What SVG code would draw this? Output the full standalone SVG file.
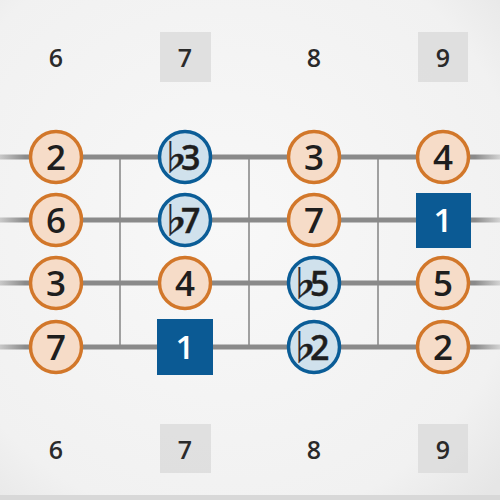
<svg xmlns="http://www.w3.org/2000/svg" width="500" height="500" viewBox="0 0 500 500">
<style>
.fret{font-family:"Open Sans","Noto Sans",sans-serif;font-weight:600;font-size:25px;fill:#2a2a2a;text-anchor:middle}
.fbox{fill:#dcdcdc;opacity:0.85}
.o circle{fill:#f6dcc8;stroke:#d2772a;stroke-width:3.5}
.b circle{fill:#d0e1ec;stroke:#0b5d97;stroke-width:3.5}
.n text{font-family:"Open Sans","Noto Sans","DejaVu Sans",sans-serif;font-weight:600;font-size:35px;fill:#1e1e1e;text-anchor:middle}
.b text{font-family:"Open Sans","Noto Sans CJK JP",sans-serif;font-size:34px;text-anchor:start;letter-spacing:-11px;stroke:#1e1e1e;stroke-width:0.4}
.r rect{fill:#0b5a94}
.r text{font-family:"Open Sans","Noto Sans",sans-serif;font-weight:600;font-size:33px;fill:#ffffff;text-anchor:middle}
.str{stroke:url(#sg);stroke-width:5}
.fl{stroke:#a0a0a0;stroke-width:2}
</style>
<defs>
<linearGradient id="sg" x1="0" y1="0" x2="500" y2="0" gradientUnits="userSpaceOnUse">
<stop offset="0" stop-color="#8a8a8a" stop-opacity="0.4"/>
<stop offset="0.05" stop-color="#8a8a8a"/>
<stop offset="0.95" stop-color="#8a8a8a"/>
<stop offset="1" stop-color="#8a8a8a" stop-opacity="0.3"/>
</linearGradient>
<radialGradient id="bg" cx="0.45" cy="0.45" r="0.75">
<stop offset="0" stop-color="#f8f8f8"/>
<stop offset="0.8" stop-color="#f1f1f1"/>
<stop offset="1" stop-color="#e6e6e6"/>
</radialGradient>
</defs>
<rect x="0" y="0" width="500" height="500" fill="url(#bg)"/>
<rect x="0" y="495" width="500" height="5" fill="#d8d8d8"/>
<g id="fret-numbers-top">
<rect class="fbox" x="160" y="32" width="51" height="50"/>
<rect class="fbox" x="418" y="32" width="50" height="50"/>
<text class="fret" x="56" y="67">6</text>
<text class="fret" x="185" y="67">7</text>
<text class="fret" x="314" y="67">8</text>
<text class="fret" x="443" y="67">9</text>
</g>
<g id="fret-numbers-bottom">
<rect class="fbox" x="160" y="424" width="51" height="49"/>
<rect class="fbox" x="418" y="424" width="50" height="49"/>
<text class="fret" x="56" y="459">6</text>
<text class="fret" x="185" y="459">7</text>
<text class="fret" x="314" y="459">8</text>
<text class="fret" x="443" y="459">9</text>
</g>
<g id="connectors">
<line class="fl" x1="120" y1="157" x2="120" y2="347"/>
<line class="fl" x1="249" y1="157" x2="249" y2="347"/>
<line class="fl" x1="378" y1="157" x2="378" y2="347"/>
<line class="str" x1="0" y1="157" x2="500" y2="157"/>
<line class="str" x1="0" y1="220" x2="500" y2="220"/>
<line class="str" x1="0" y1="283" x2="500" y2="283"/>
<line class="str" x1="0" y1="347" x2="500" y2="347"/>
</g>
<g id="n-s1-2" class="n o"><circle cx="56" cy="157" r="25.5"/><text x="56" y="170">2</text></g>
<g id="n-s1-b3" class="n b"><circle cx="185" cy="157" r="25.5"/><text x="158" y="170">♭3</text></g>
<g id="n-s1-3" class="n o"><circle cx="314" cy="157" r="25.5"/><text x="314" y="170">3</text></g>
<g id="n-s1-4" class="n o"><circle cx="443" cy="157" r="25.5"/><text x="443" y="170">4</text></g>
<g id="n-s2-6" class="n o"><circle cx="56" cy="220" r="25.5"/><text x="56" y="233">6</text></g>
<g id="n-s2-b7" class="n b"><circle cx="185" cy="220" r="25.5"/><text x="158" y="233">♭7</text></g>
<g id="n-s2-7" class="n o"><circle cx="314" cy="220" r="25.5"/><text x="314" y="233">7</text></g>
<g id="n-s2-1" class="r"><rect x="416" y="193" width="55" height="55"/><text x="443" y="232">1</text></g>
<g id="n-s3-3" class="n o"><circle cx="56" cy="283" r="25.5"/><text x="56" y="296">3</text></g>
<g id="n-s3-4" class="n o"><circle cx="185" cy="283" r="25.5"/><text x="185" y="296">4</text></g>
<g id="n-s3-b5" class="n b"><circle cx="314" cy="283" r="25.5"/><text x="287" y="296">♭5</text></g>
<g id="n-s3-5" class="n o"><circle cx="443" cy="283" r="25.5"/><text x="443" y="296">5</text></g>
<g id="n-s4-7" class="n o"><circle cx="56" cy="347" r="25.5"/><text x="56" y="360">7</text></g>
<g id="n-s4-1" class="r"><rect x="157" y="319" width="56" height="56"/><text x="185" y="359">1</text></g>
<g id="n-s4-b2" class="n b"><circle cx="314" cy="347" r="25.5"/><text x="287" y="360">♭2</text></g>
<g id="n-s4-2" class="n o"><circle cx="443" cy="347" r="25.5"/><text x="443" y="360">2</text></g>
</svg>
